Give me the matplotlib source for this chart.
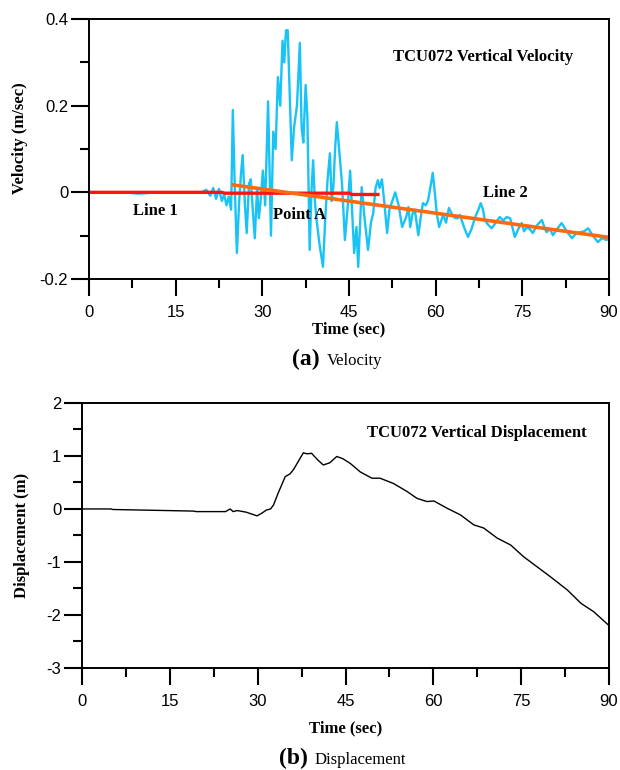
import matplotlib
matplotlib.use("Agg")
import matplotlib.pyplot as plt
from matplotlib.ticker import MultipleLocator, FuncFormatter

plt.rcParams['axes.unicode_minus'] = False

# velocity trace (sec, m/sec)
vel_t = [0, 6, 8.5, 10, 12, 15, 19.5, 20.3, 21.0, 21.5,
         22.0, 22.5, 23.0, 23.4, 23.8, 24.2, 24.6, 24.9, 25.2, 25.6,
         26.0, 26.3, 26.6, 27.0, 27.3, 27.7, 28.0, 28.4, 28.7, 29.1,
         29.4, 29.7, 30.1, 30.5, 31.0, 31.5, 31.9, 32.3, 32.7, 33.1,
         33.5, 33.8, 34.1, 34.4, 34.8, 35.1, 35.5, 36.0, 36.5, 36.8,
         37.1, 37.5, 37.8, 38.2, 38.5, 38.8, 39.1, 39.4, 39.9, 40.5,
         40.9, 41.3, 41.7, 42.0, 42.3, 42.6, 42.9, 43.3, 43.8, 44.3,
         44.8, 45.2, 45.6, 45.9, 46.3, 46.6, 47.2, 47.7, 48.3, 48.8,
         49.2, 49.6, 50.0, 50.3, 50.7, 51.1, 51.6, 52.0, 52.5, 53.0,
         53.6, 54.2, 54.9, 55.3, 55.6, 56.0, 56.4, 57.0, 57.4, 57.8,
         58.3, 58.7, 59.2, 59.5, 59.9, 60.2, 60.6, 61.3, 61.8, 62.3,
         62.8, 63.3, 63.8, 64.2, 64.9, 65.6, 66.2, 66.8, 67.4, 67.8,
         68.2, 68.5, 69.1, 69.7, 70.4, 71.1, 71.7, 72.3, 72.9, 73.7,
         74.3, 74.9, 75.3, 75.8, 76.3, 76.8, 77.6, 78.4, 78.8, 79.2,
         79.8, 80.3, 81.0, 81.8, 82.7, 83.6, 84.3, 85.0, 85.7, 86.4,
         87.2, 88.1, 88.6, 89.0, 89.5, 90.0]
vel_v = [0.0, 0.0, -0.003, -0.002, 0.0, 0.0, 0.0, 0.006, -0.008, 0.01,
         -0.015, 0.008, -0.02, -0.005, -0.03, -0.01, -0.04, 0.19, 0.03, -0.14,
         -0.02, 0.04, 0.086, -0.03, -0.094, 0.02, 0.03, -0.05, -0.106, 0.01,
         -0.06, -0.02, 0.05, -0.03, 0.21, -0.1, 0.14, 0.1, 0.266, 0.2,
         0.35, 0.3, 0.374, 0.374, 0.206, 0.074, 0.15, 0.2, 0.345, 0.15,
         0.115, 0.248, 0.175, -0.133, 0.0, 0.074, -0.02, -0.064, -0.12, -0.172,
         -0.06, 0.03, 0.09, -0.02, 0.012, 0.1, 0.162, 0.098, 0.02, -0.11,
         -0.03, 0.05, -0.06, -0.14, -0.08, -0.172, 0.012, -0.06, -0.133, -0.07,
         -0.048, 0.01, 0.028, 0.01, 0.03, -0.02, -0.094, -0.04, -0.02, 0.0,
         -0.03, -0.08, -0.057, -0.034, -0.08, -0.05, -0.04, -0.099, -0.06, -0.025,
         -0.03, -0.018, 0.02, 0.045, -0.006, -0.05, -0.08, -0.052, -0.07, -0.036,
         -0.05, -0.059, -0.06, -0.052, -0.08, -0.103, -0.085, -0.059, -0.04, -0.025,
         -0.04, -0.064, -0.075, -0.083, -0.07, -0.057, -0.065, -0.057, -0.06, -0.103,
         -0.085, -0.071, -0.09, -0.08, -0.085, -0.094, -0.075, -0.064, -0.08, -0.092,
         -0.085, -0.099, -0.085, -0.071, -0.09, -0.106, -0.095, -0.092, -0.09, -0.083,
         -0.1, -0.115, -0.108, -0.106, -0.11, -0.108]

# fitted baselines
line1_t = [0, 23, 23.5, 45, 45.5, 50]
line1_v = [0, 0, -0.002, -0.002, -0.005, -0.005]
line2_t = [25, 90]
line2_v = [0.017, -0.104]

# displacement trace (sec, m)
disp_t = [0, 5, 5.2, 19, 19.5, 24.5, 25.3, 25.8, 26.5, 27, 28, 29.9, 30.7, 31.5,
          32.2, 32.7, 33.5, 34.7, 35.5, 36.1, 36.9, 37.8, 38.4, 39.2, 40.3, 41.2,
          42.3, 43.5, 44.5, 45.8, 47.5, 49.5, 50.9, 53.2, 55.5, 57.2, 58.9, 60.1,
          62.4, 64.6, 66.9, 68.6, 70.9, 73.2, 75.4, 77.7, 80.0, 82.9, 85.2, 87.4, 90]
disp_v = [0, 0, -0.01, -0.04, -0.05, -0.05, 0.0, -0.05, -0.03, -0.04, -0.06, -0.13, -0.08, -0.02,
          0.0, 0.075, 0.3, 0.61, 0.66, 0.74, 0.89, 1.06, 1.04, 1.05, 0.92, 0.83,
          0.87, 0.99, 0.95, 0.86, 0.70, 0.58, 0.58, 0.48, 0.33, 0.2, 0.14, 0.15,
          0.01, -0.11, -0.30, -0.36, -0.55, -0.68, -0.90, -1.09, -1.28, -1.53, -1.78, -1.94, -2.2]

serif = 'Liberation Serif'
sans = 'Liberation Sans'


def style_axes(ax, ymajor, yminor, xpad):
    #ticks only left/bottom, pointing out
    ax.xaxis.set_major_locator(MultipleLocator(15))
    ax.xaxis.set_minor_locator(MultipleLocator(7.5))
    ax.yaxis.set_major_locator(MultipleLocator(ymajor))
    ax.yaxis.set_minor_locator(MultipleLocator(yminor))
    ax.yaxis.set_major_formatter(FuncFormatter(lambda v, p: '%g' % round(v, 6)))
    ax.tick_params(which='both', direction='out', top=False, right=False, width=1.5)
    ax.tick_params(axis='x', which='major', length=12, pad=7)
    ax.tick_params(axis='x', which='minor', length=6.5)
    ax.tick_params(axis='y', which='major', length=13, pad=2)
    ax.tick_params(axis='y', which='minor', length=6.5)
    for lab in ax.get_xticklabels() + ax.get_yticklabels():
        lab.set_fontfamily(sans)
        lab.set_fontsize(12)
    for s in ax.spines.values():
        s.set_linewidth(1.4)
    ax.set_xlabel('Time (sec)', fontfamily=serif, fontweight='bold', fontsize=12, labelpad=xpad)


fig = plt.figure(figsize=(6.2, 7.7), dpi=100)

# (a) velocity
ax1 = fig.add_axes([0.1435, 0.6377, 0.8387, 0.3376])
ax1.plot(vel_t, vel_v, color='#19C3F5', linewidth=1.7)
ax1.plot(line1_t, line1_v, color='#FF1414', linewidth=2.4)
ax1.plot(line2_t, line2_v, color='#FF6A10', linewidth=2.6)
ax1.set_xlim(0, 90)
ax1.set_ylim(-0.2, 0.4)
style_axes(ax1, 0.2, 0.1, 1)
ax1.set_ylabel('Velocity (m/sec)', fontfamily=serif, fontweight='bold', fontsize=12)
ax1.yaxis.set_label_coords(-0.118, 0.54)
ax1.text(68.2, 0.312, 'TCU072 Vertical Velocity', fontfamily=serif, fontweight='bold',
         fontsize=12, ha='center', va='center')
ax1.text(11.5, -0.043, 'Line 1', fontfamily=serif, fontweight='bold', fontsize=12,
         ha='center', va='center')
ax1.text(36.4, -0.052, 'Point A', fontfamily=serif, fontweight='bold', fontsize=12,
         ha='center', va='center')
ax1.text(72.0, -0.002, 'Line 2', fontfamily=serif, fontweight='bold', fontsize=12,
         ha='center', va='center')

# (b) displacement
ax2 = fig.add_axes([0.1323, 0.1325, 0.85, 0.3442])
ax2.plot(disp_t, disp_v, color='black', linewidth=1.0)
ax2.set_xlim(0, 90)
ax2.set_ylim(-3, 2)
style_axes(ax2, 1, 0.5, 8)
ax2.set_ylabel('Displacement (m)', fontfamily=serif, fontweight='bold', fontsize=12)
ax2.yaxis.set_label_coords(-0.099, 0.5)
ax2.text(67.4, 1.43, 'TCU072 Vertical Displacement', fontfamily=serif, fontweight='bold',
         fontsize=12, ha='center', va='center')

# captions
fig.text(320 / 620, 1 - 365 / 770, '(a)', fontfamily=serif, fontweight='bold', fontsize=17,
         ha='right', va='baseline')
fig.text(327 / 620, 1 - 365 / 770, 'Velocity', fontfamily=serif, fontsize=12,
         ha='left', va='baseline')
fig.text(308 / 620, 1 - 764 / 770, '(b)', fontfamily=serif, fontweight='bold', fontsize=17,
         ha='right', va='baseline')
fig.text(315 / 620, 1 - 764 / 770, 'Displacement', fontfamily=serif, fontsize=12,
         ha='left', va='baseline')

fig.savefig('out.png', dpi=100)
